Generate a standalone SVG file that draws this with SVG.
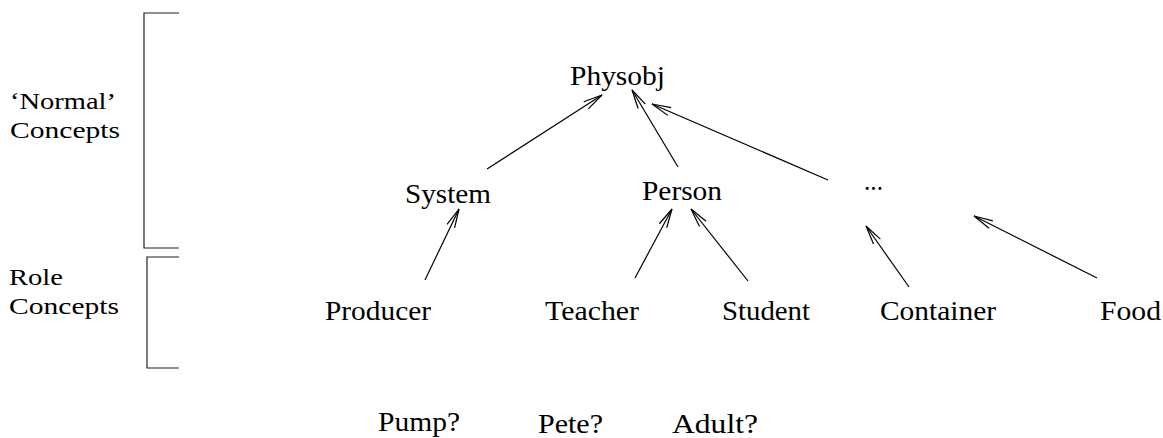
<svg xmlns="http://www.w3.org/2000/svg" width="1163" height="438" viewBox="0 0 1163 438">
<style>
text{font-family:'Liberation Serif',serif;font-size:28px;fill:#000}
.lbl{font-size:24px}
.br{fill:none;stroke:#222;stroke-width:1.2}
.ed{fill:none;stroke:#000;stroke-width:1.2;marker-end:url(#ah)}
</style>
<defs>
<marker id="ah" viewBox="-21 -6 23 12" markerWidth="23" markerHeight="12" refX="0" refY="0" orient="auto" markerUnits="userSpaceOnUse">
<path d="M-19,-4.2 L0,0 L-19,4.2" fill="none" stroke="#000" stroke-width="1.2"/>
</marker>
</defs>
<rect width="1163" height="438" fill="#fff"/>
<g id="brackets">
<polyline class="br" points="179,13 144,13 144,248 179,248"/>
<polyline class="br" points="179,257 147,257 147,368 179,368"/>
</g>
<g id="group-labels" font-family="Liberation Serif, serif">
<text class="lbl" x="10" y="109" textLength="106" lengthAdjust="spacingAndGlyphs">‘Normal’</text>
<text class="lbl" x="10" y="138" textLength="110" lengthAdjust="spacingAndGlyphs">Concepts</text>
<text class="lbl" x="9" y="285" textLength="54" lengthAdjust="spacingAndGlyphs">Role</text>
<text class="lbl" x="9" y="314" textLength="110" lengthAdjust="spacingAndGlyphs">Concepts</text>
</g>
<g id="connectors">
<line class="ed" x1="487" y1="169" x2="602" y2="95"/>
<line class="ed" x1="678" y1="167" x2="632" y2="90"/>
<line class="ed" x1="828" y1="180" x2="652" y2="104"/>
<line class="ed" x1="425" y1="280" x2="459" y2="209"/>
<line class="ed" x1="635" y1="278" x2="672" y2="209"/>
<line class="ed" x1="748" y1="281" x2="691" y2="209"/>
<line class="ed" x1="909" y1="287" x2="866" y2="226"/>
<line class="ed" x1="1097" y1="278" x2="974" y2="216"/>
</g>
<g font-family="Liberation Serif, serif">
<g id="physobj"><text x="570" y="85" textLength="95" lengthAdjust="spacingAndGlyphs">Physobj</text></g>
<g id="system"><text x="405" y="203" textLength="86" lengthAdjust="spacingAndGlyphs">System</text></g>
<g id="person"><text x="642" y="200" textLength="80" lengthAdjust="spacingAndGlyphs">Person</text></g>
<g id="others"><text x="864" y="190" textLength="19" lengthAdjust="spacingAndGlyphs">...</text></g>
<g id="producer"><text x="325" y="320" textLength="106" lengthAdjust="spacingAndGlyphs">Producer</text></g>
<g id="teacher"><text x="545" y="320" textLength="94" lengthAdjust="spacingAndGlyphs">Teacher</text></g>
<g id="student"><text x="722" y="320" textLength="88" lengthAdjust="spacingAndGlyphs">Student</text></g>
<g id="container"><text x="880" y="320" textLength="116" lengthAdjust="spacingAndGlyphs">Container</text></g>
<g id="food"><text x="1100" y="320" textLength="61" lengthAdjust="spacingAndGlyphs">Food</text></g>
<g id="pump"><text x="378" y="431" textLength="82" lengthAdjust="spacingAndGlyphs">Pump?</text></g>
<g id="pete"><text x="538" y="433" textLength="65" lengthAdjust="spacingAndGlyphs">Pete?</text></g>
<g id="adult"><text x="672" y="433" textLength="86" lengthAdjust="spacingAndGlyphs">Adult?</text></g>
</g>
</svg>
